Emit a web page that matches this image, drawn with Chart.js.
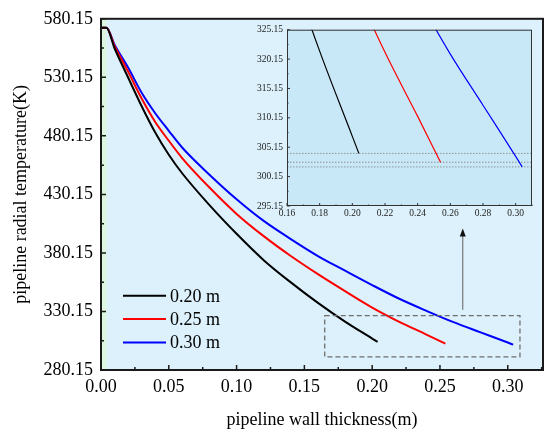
<!DOCTYPE html>
<html><head><meta charset="utf-8">
<script src="https://cdn.jsdelivr.net/npm/chart.js@4.4.0/dist/chart.umd.min.js"></script>
<style>
html,body{margin:0;padding:0;background:#fff;}
#wrap{position:relative;width:550px;height:436px;overflow:hidden;}
#main{position:absolute;left:0;top:0;}
#inset{position:absolute;left:240px;top:20px;}
</style></head><body>
<div id="wrap">
<canvas id="main" width="550" height="436"></canvas>
<canvas id="inset" width="300" height="210"></canvas>
</div>
<script>
// ---- data ----
const seriesLabels = ['0.20 m', '0.25 m', '0.30 m'];
const seriesColors = ['#000000', '#ff0000', '#0000ff'];

const x020 = [0, 0.004, 0.01, 0.02, 0.03, 0.04, 0.05, 0.06, 0.08, 0.10, 0.12, 0.14, 0.16, 0.18, 0.20, 0.204];
const t020 = [572.5, 572.5, 555, 530, 505.5, 483, 464, 448, 421, 396.5, 374, 355, 337.5, 321.5, 307, 304.1];

const x025 = [0, 0.004, 0.01, 0.02, 0.03, 0.04, 0.05, 0.06, 0.08, 0.10, 0.12, 0.14, 0.16, 0.18, 0.20, 0.22, 0.24, 0.254];
const t025 = [572.5, 572.5, 557, 535, 512, 492, 476, 461, 436, 413.5, 394.5, 377.5, 362, 347.5, 333.5, 321.3, 310.4, 302.6];

const x030 = [0, 0.004, 0.01, 0.02, 0.03, 0.04, 0.05, 0.06, 0.08, 0.10, 0.12, 0.14, 0.16, 0.18, 0.20, 0.22, 0.24, 0.26, 0.28, 0.30, 0.304];
const t030 = [572.5, 572.5, 558, 538.5, 517, 499.5, 484.5, 470, 447, 426, 407.5, 392, 377.5, 365, 352.7, 341, 330.7, 321, 312.3, 303.6, 301.8];

const xTicksMain = [0.00, 0.05, 0.10, 0.15, 0.20, 0.25, 0.30];
const yTicksMain = [280.15, 330.15, 380.15, 430.15, 480.15, 530.15, 580.15];
const xTicksInset = [0.16, 0.18, 0.20, 0.22, 0.24, 0.26, 0.28, 0.30];
const yTicksInset = [295.15, 300.15, 305.15, 310.15, 315.15, 320.15, 325.15];

const greenZoneEnd = 0.004;          // inner wall zone
const zoomBoxX = [0.165, 0.309];     // dashed rectangle
const zoomBoxT = [291.4, 326.6];
const arrowX = 0.2668;
const arrowT = [331.7, 401];

const FONT = '"Liberation Serif", "Times New Roman", serif';
const xs = [x020, x025, x030], ts = [t020, t025, t030];
function makeSets(width) {
  return xs.map((xa, k) => ({
    label: seriesLabels[k],
    data: xa.map((x, i) => ({x: x, y: ts[k][i]})),
    borderColor: seriesColors[k],
    borderWidth: width,
    pointRadius: 0,
    showLine: true,
    fill: false,
    cubicInterpolationMode: 'monotone'
  }));
}
function minorOf(arr, lo, hi) {
  const step = arr[1] - arr[0];
  const out = [];
  for (let v = arr[0] - step / 2; v <= hi + 1e-9; v += step) if (v >= lo - 1e-9) out.push(v);
  return out;
}
function drawTicks(chart, xMaj, yMaj, majLen, minLen, lw, col) {
  const {ctx, chartArea: a, scales: {x, y}} = chart;
  ctx.save();
  ctx.strokeStyle = col; ctx.lineWidth = lw;
  ctx.beginPath();
  xMaj.forEach(v => { const p = x.getPixelForValue(v); ctx.moveTo(p, a.bottom); ctx.lineTo(p, a.bottom - majLen); });
  minorOf(xMaj, x.min, x.max).forEach(v => { const p = x.getPixelForValue(v); ctx.moveTo(p, a.bottom); ctx.lineTo(p, a.bottom - minLen); });
  yMaj.forEach(v => { const p = y.getPixelForValue(v); ctx.moveTo(a.left, p); ctx.lineTo(a.left + majLen, p); });
  minorOf(yMaj, y.min, y.max).forEach(v => { const p = y.getPixelForValue(v); ctx.moveTo(a.left, p); ctx.lineTo(a.left + minLen, p); });
  ctx.stroke();
  ctx.restore();
}

const mainDeco = {
  id: 'mainDeco',
  beforeDraw(chart) {
    const {ctx, chartArea: a, scales: {x}} = chart;
    ctx.save();
    ctx.fillStyle = '#dcf1fb';
    ctx.fillRect(a.left, a.top, a.right - a.left, a.bottom - a.top);
    ctx.fillStyle = '#dcf6e0';
    const g = x.getPixelForValue(greenZoneEnd);
    ctx.fillRect(a.left, a.top, g - a.left, a.bottom - a.top);
    ctx.restore();
  },
  afterDraw(chart) {
    const {ctx, chartArea: a, scales: {x, y}} = chart;
    ctx.save();
    // dashed zoom box
    ctx.strokeStyle = '#6e6e6e'; ctx.lineWidth = 1.3; ctx.setLineDash([5, 3]);
    const bx0 = x.getPixelForValue(zoomBoxX[0]), bx1 = x.getPixelForValue(zoomBoxX[1]);
    const by0 = y.getPixelForValue(zoomBoxT[1]), by1 = y.getPixelForValue(zoomBoxT[0]);
    ctx.strokeRect(bx0, by0, bx1 - bx0, by1 - by0);
    ctx.setLineDash([]);
    // arrow
    const ax = x.getPixelForValue(arrowX), ay0 = y.getPixelForValue(arrowT[0]), ay1 = y.getPixelForValue(arrowT[1]);
    ctx.strokeStyle = '#777'; ctx.lineWidth = 1.2;
    ctx.beginPath(); ctx.moveTo(ax, ay0); ctx.lineTo(ax, ay1 + 6); ctx.stroke();
    ctx.fillStyle = '#111';
    ctx.beginPath(); ctx.moveTo(ax, ay1); ctx.lineTo(ax - 3, ay1 + 8); ctx.lineTo(ax + 3, ay1 + 8); ctx.closePath(); ctx.fill();
    // legend
    ctx.font = '18px ' + FONT; ctx.textBaseline = 'middle'; ctx.textAlign = 'left';
    seriesLabels.forEach((lab, i) => {
      const ly = a.top + 277 + i * 23.3;
      ctx.strokeStyle = seriesColors[i]; ctx.lineWidth = 2;
      ctx.beginPath(); ctx.moveTo(a.left + 22, ly); ctx.lineTo(a.left + 65, ly); ctx.stroke();
      ctx.fillStyle = '#000'; ctx.fillText(lab, a.left + 69, ly + 1);
    });
    // frame
    ctx.strokeStyle = '#1a1a1a'; ctx.lineWidth = 2;
    ctx.strokeRect(a.left, a.top, a.right - a.left, a.bottom - a.top);
    ctx.restore();
    drawTicks(chart, xTicksMain, yTicksMain, 5, 3, 1.5, '#1a1a1a');
  }
};

new Chart(document.getElementById('main'), {
  type: 'scatter',
  data: {datasets: makeSets(2)},
  options: {
    responsive: false, animation: false,
    layout: {padding: {top: 15, right: 7, left: 0, bottom: 0}},
    plugins: {legend: {display: false}, tooltip: {enabled: false}},
    scales: {
      x: {
        type: 'linear', min: 0, max: 0.326,
        afterFit: s => { s.height = 66; },
        afterBuildTicks: s => { s.ticks = xTicksMain.map(v => ({value: v})); },
        grid: {display: false, drawTicks: false},
        border: {display: false},
        ticks: {padding: 6, color: '#000', font: {family: FONT, size: 18}, callback: v => Number(v).toFixed(2)},
        title: {display: true, text: 'pipeline wall thickness(m)', color: '#000', font: {family: FONT, size: 18}, padding: {top: 0, bottom: 5}}
      },
      y: {
        type: 'linear', min: 280.15, max: 580.15,
        afterFit: s => { s.width = 101; },
        afterBuildTicks: s => { s.ticks = yTicksMain.map(v => ({value: v})); },
        grid: {display: false, drawTicks: false},
        border: {display: false},
        ticks: {padding: 8, color: '#000', font: {family: FONT, size: 18}, callback: v => Number(v).toFixed(2)},
        title: {display: true, text: 'pipeline radial temperature(K)', color: '#000', font: {family: FONT, size: 18}, padding: {top: 10, bottom: 0}}
      }
    }
  },
  plugins: [mainDeco]
});

const insetDeco = {
  id: 'insetDeco',
  beforeDraw(chart) {
    const {ctx, chartArea: a} = chart;
    ctx.save();
    ctx.fillStyle = '#c8e8f8';
    ctx.fillRect(a.left, a.top, a.right - a.left, a.bottom - a.top);
    ctx.restore();
  },
  beforeDatasetsDraw(chart) {
    const {ctx, chartArea: a, scales: {y}} = chart;
    ctx.save();
    ctx.strokeStyle = '#8a8a8a'; ctx.lineWidth = 0.9; ctx.setLineDash([1.5, 1.5]);
    ts.forEach(t => {
      const p = y.getPixelForValue(t[t.length - 1]);
      ctx.beginPath(); ctx.moveTo(a.left, p); ctx.lineTo(a.right, p); ctx.stroke();
    });
    ctx.restore();
  },
  afterDraw(chart) {
    const {ctx, chartArea: a} = chart;
    ctx.save();
    ctx.strokeStyle = '#333'; ctx.lineWidth = 1;
    ctx.strokeRect(a.left + 0.5, a.top + 0.5, a.right - a.left - 1, a.bottom - a.top - 1);
    ctx.restore();
    drawTicks(chart, xTicksInset, yTicksInset, 3, 1.5, 1, '#333');
  }
};

new Chart(document.getElementById('inset'), {
  type: 'scatter',
  data: {datasets: makeSets(1.2)},
  options: {
    responsive: false, animation: false,
    layout: {padding: {top: 7, right: 8, left: 0, bottom: 0}},
    plugins: {legend: {display: false}, tooltip: {enabled: false}},
    scales: {
      x: {
        type: 'linear', min: 0.16, max: 0.31,
        afterFit: s => { s.height = 24; },
        afterBuildTicks: s => { s.ticks = xTicksInset.map(v => ({value: v})); },
        grid: {display: false, drawTicks: false},
        border: {display: false},
        ticks: {padding: 2, color: '#222', font: {family: FONT, size: 9.5}, callback: v => Number(v).toFixed(2)},
        title: {display: false}
      },
      y: {
        type: 'linear', min: 295.15, max: 325.15,
        afterFit: s => { s.width = 47; },
        afterBuildTicks: s => { s.ticks = yTicksInset.map(v => ({value: v})); },
        grid: {display: false, drawTicks: false},
        border: {display: false},
        ticks: {padding: 4, color: '#222', font: {family: FONT, size: 9.5}, callback: v => Number(v).toFixed(2)},
        title: {display: false}
      }
    }
  },
  plugins: [insetDeco]
});
</script>
</body></html>
